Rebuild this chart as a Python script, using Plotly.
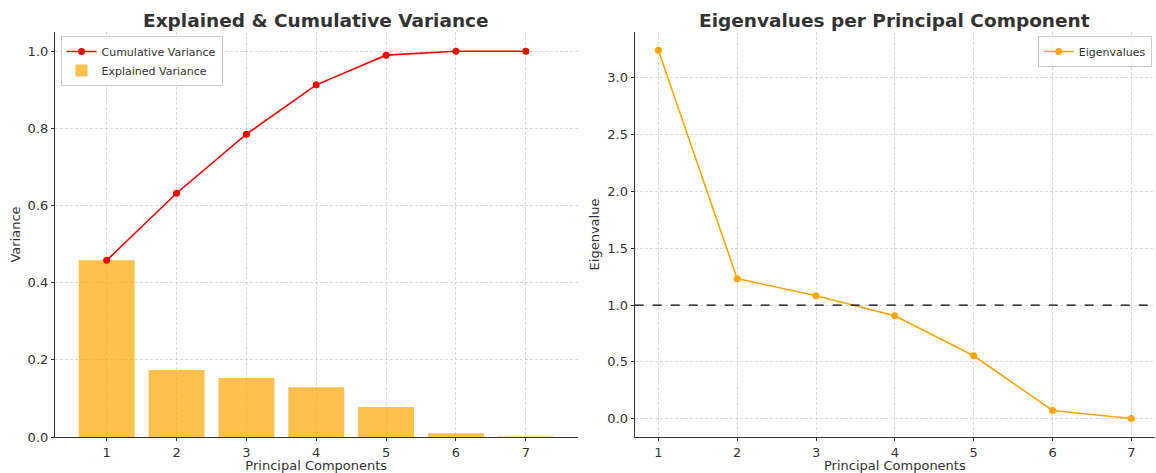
import plotly.graph_objects as go
from plotly.subplots import make_subplots

components = [1, 2, 3, 4, 5, 6, 7]
explained_variance = [0.458, 0.174, 0.153, 0.129, 0.078, 0.010, 0.001]
cumulative_variance = [0.458, 0.632, 0.785, 0.913, 0.990, 1.000, 1.000]
eigenvalues = [3.24, 1.232, 1.082, 0.906, 0.554, 0.073, 0.003]
kaiser_threshold = 1.0

FONT = "DejaVu Sans"
TXT = "#333333"

fig = make_subplots(rows=1, cols=2, horizontal_spacing=0.05)

fig.add_trace(go.Bar(x=components, y=explained_variance, name="Explained Variance",
                     marker=dict(color="rgba(255,165,0,0.7)", line=dict(width=0)),
                     width=0.8), row=1, col=1)
fig.add_trace(go.Scatter(x=components, y=cumulative_variance, name="Cumulative Variance",
                         mode="lines+markers", line=dict(color="red", width=1.6),
                         marker=dict(color="red", size=7)), row=1, col=1)
fig.add_trace(go.Scatter(x=components, y=eigenvalues, name="Eigenvalues",
                         mode="lines+markers", line=dict(color="orange", width=1.6),
                         marker=dict(color="orange", size=7), legend="legend2"), row=1, col=2)
fig.add_shape(type="line", xref="x2 domain", yref="y2", x0=0, x1=1,
              y0=kaiser_threshold, y1=kaiser_threshold,
              line=dict(color="black", width=1.3, dash="dash"))

axis_common = dict(showgrid=True, gridcolor="rgba(200,200,200,0.7)", griddash="3px,2px",
                   gridwidth=0.8, showline=True, linecolor="#333333", linewidth=1.2,
                   ticks="outside", ticklen=3, tickcolor="#333333", zeroline=False,
                   automargin=False,
                   tickfont=dict(family=FONT, size=13, color=TXT),
                   title_font=dict(family=FONT, size=13, color=TXT))

fig.update_xaxes(**axis_common)
fig.update_yaxes(**axis_common)

fig.update_xaxes(domain=[0, 0.475], range=[0.26, 7.74], tickvals=components,
                 title_text="Principal Components", title_standoff=5, row=1, col=1)
fig.update_yaxes(range=[0, 1.05], tickvals=[0, 0.2, 0.4, 0.6, 0.8, 1.0],
                 tickformat=".1f", title_text="Variance", title_standoff=4, row=1, col=1)
fig.update_xaxes(domain=[0.527, 1], range=[0.7, 7.3], tickvals=components,
                 title_text="Principal Components", title_standoff=5, row=1, col=2)
fig.update_yaxes(range=[-0.16, 3.40], tickvals=[0, 0.5, 1.0, 1.5, 2.0, 2.5, 3.0],
                 tickformat=".1f", title_text="Eigenvalue", title_standoff=4, row=1, col=2)

fig.add_annotation(text="<b>Explained & Cumulative Variance</b>", xref="x domain", yref="paper",
                   x=0.5, y=1, yshift=12, showarrow=False,
                   font=dict(family=FONT, size=18.5, color=TXT), yanchor="middle")
fig.add_annotation(text="<b>Eigenvalues per Principal Component</b>", xref="x2 domain", yref="paper",
                   x=0.5, y=1, yshift=12, showarrow=False,
                   font=dict(family=FONT, size=18.5, color=TXT), yanchor="middle")

fig.update_layout(
    width=1156, height=473,
    margin=dict(l=55, r=1, t=32, b=36),
    plot_bgcolor="white", paper_bgcolor="white",
    font=dict(family=FONT, color=TXT),
    bargap=0.2,
    legend=dict(x=0.005, y=0.99, xanchor="left", yanchor="top",
                bgcolor="rgba(255,255,255,0.8)", bordercolor="#cccccc", borderwidth=1,
                font=dict(family=FONT, size=11, color=TXT), traceorder="reversed",
                itemwidth=30, tracegroupgap=0),
    legend2=dict(x=0.997, y=0.99, xanchor="right", yanchor="top", xref="paper", yref="paper",
                 bgcolor="rgba(255,255,255,0.8)", bordercolor="#cccccc", borderwidth=1,
                 font=dict(family=FONT, size=11, color=TXT), itemwidth=30),
)

fig.write_html("out.html", config={"displayModeBar": False},
               post_script="document.body.style.margin='0';document.body.style.overflow='hidden';")
